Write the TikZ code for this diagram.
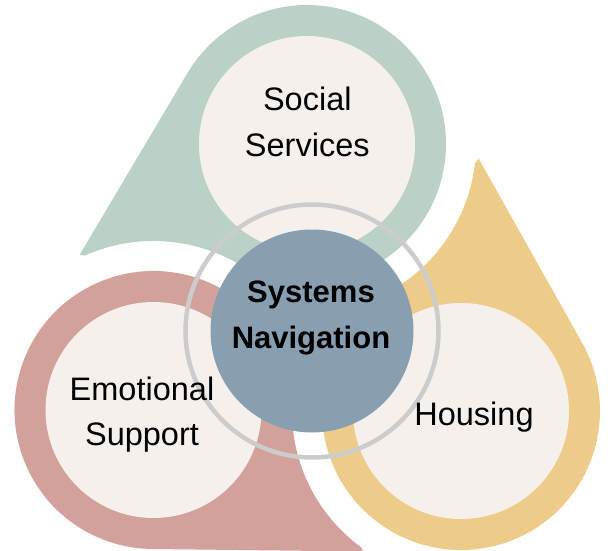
\documentclass[tikz,border=0pt]{standalone}
\usepackage{fontspec}
\setmainfont{Liberation Sans}
\definecolor{sgreen}{HTML}{BCD1C5}
\definecolor{syellow}{HTML}{EDCC8A}
\definecolor{sred}{HTML}{D3A19C}
\definecolor{scream}{HTML}{F5F0EC}
\definecolor{sblue}{HTML}{879FB0}
\definecolor{sring}{HTML}{CCCCCC}
\tikzset{
  x=1pt, y=1pt,
  lbl/.style={align=center, anchor=base, text=black, inner sep=0pt,
    font=\fontsize{32.5}{45.5}\selectfont},
  hub/.style={align=center, anchor=base, text=black, inner sep=0pt,
    font=\fontsize{31}{45.5}\selectfont\bfseries},
}
\begin{document}
\begin{tikzpicture}
\useasboundingbox (0,0) rectangle (608,550);
\coordinate (G) at (307,406);
\coordinate (R) at (153.5,140);
\coordinate (Y) at (461,139);
\coordinate (O) at (312,219);
% teardrops, each cut by a white disk around the next one
\foreach \c/\a/\n/\col in {G/206/R/sgreen, Y/86/G/syellow, R/326/Y/sred}{
  \begin{scope}
    \clip ([shift={(\a:253pt)}]\c) -- ([shift={(\a+56.6:139pt)}]\c)
      arc[start angle=\a+56.6, delta angle=246.8, radius=139pt] -- cycle;
    \fill[\col, even odd rule] (-10,-10) rectangle (620,560)
      (\n) circle[radius=169pt];
  \end{scope}
}
\fill[scream] (G) circle[radius=108pt];
\fill[scream] (R) circle[radius=108pt];
\fill[scream] (Y) circle[radius=108pt];
\draw[sring, line width=4.5pt] (O) circle[radius=126.5pt];
\fill[sblue] (O) circle[radius=101.5pt];
\node[lbl] (social) at (307.3,393.5) {Social\\Services};
\node[lbl] (emo) at (142,104.5) {Emotional\\Support};
\node[lbl] (house) at (474,125) {Housing};
\node[hub] (nav) at (311,202) {Systems\\Navigation};
\end{tikzpicture}
\end{document}
